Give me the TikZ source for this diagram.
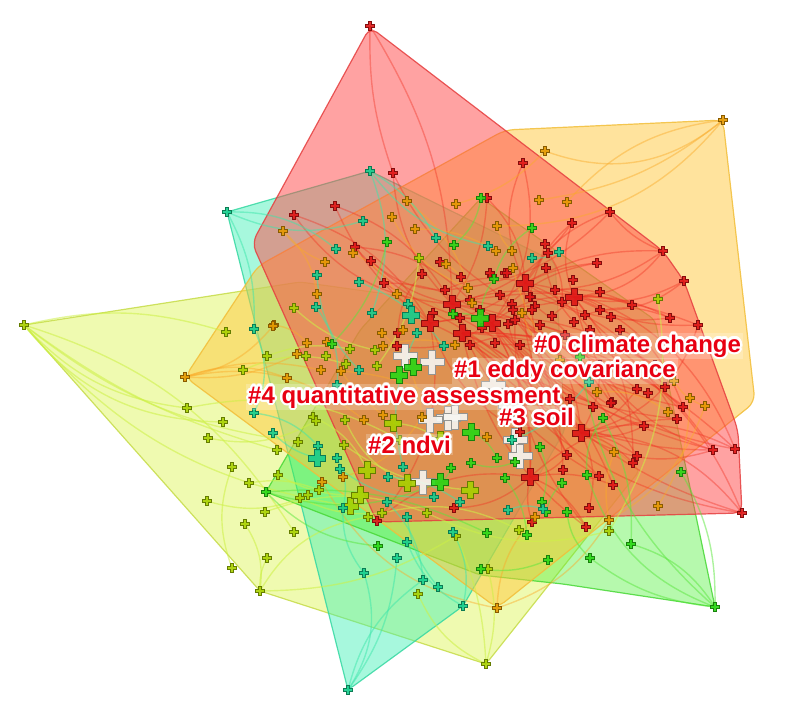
\documentclass[tikz,border=0pt]{standalone}
\usepackage{fontspec}
\setmainfont{Liberation Sans}
\pgfdeclarelayer{polys}
\pgfdeclarelayer{edges}
\pgfsetlayers{polys,edges,main}
\definecolor{cR}{RGB}{222,22,22}
\definecolor{cO}{RGB}{228,152,0}
\definecolor{cY}{RGB}{168,208,0}
\definecolor{cG}{RGB}{40,215,20}
\definecolor{cT}{RGB}{20,205,140}
\definecolor{cW}{RGB}{246,246,242}
\definecolor{labred}{RGB}{232,0,18}
\definecolor{pRc}{RGB}{255,70,70}
\definecolor{pOc}{RGB}{255,200,60}
\definecolor{pTc}{RGB}{60,240,180}
\definecolor{pGc}{RGB}{80,240,60}
\definecolor{pYc}{RGB}{220,245,80}
\tikzset{
  pics/mk/.style n args={3}{code={
    \filldraw[fill=#1, draw=#1!60!black, line width=0.5pt, fill opacity=0.9]
      (-#3,-#2) -- (#3,-#2) -- (#3,-#3) -- (#2,-#3) -- (#2,#3) -- (#3,#3) --
      (#3,#2) -- (-#3,#2) -- (-#3,#3) -- (-#2,#3) -- (-#2,-#3) -- (-#3,-#3) -- cycle;}},
  polyR/.style={fill=pRc, draw=pRc!90!black, fill opacity=0.5, draw opacity=0.85, line width=1.2pt, rounded corners=9pt},
  polyO/.style={fill=pOc, draw=pOc!95!black, fill opacity=0.5, draw opacity=0.85, line width=1.2pt, rounded corners=9pt},
  polyT/.style={fill=pTc, draw=pTc!90!black, fill opacity=0.45, draw opacity=0.85, line width=1.2pt, rounded corners=6pt},
  polyG/.style={fill=pGc, draw=pGc!90!black, fill opacity=0.42, draw opacity=0.85, line width=1.2pt, rounded corners=6pt},
  polyY/.style={fill=pYc, draw=pYc!90!black, fill opacity=0.45, draw opacity=0.85, line width=1.2pt, rounded corners=6pt},
  eR/.style={draw={rgb,255:red,240;green,50;blue,35}, opacity=0.4, line width=1.4pt},
  eO/.style={draw={rgb,255:red,250;green,170;blue,40}, opacity=0.45, line width=1.4pt},
  eY/.style={draw={rgb,255:red,205;green,240;blue,70}, opacity=0.55, line width=1.4pt},
  eT/.style={draw={rgb,255:red,60;green,230;blue,170}, opacity=0.5, line width=1.4pt},
  eG/.style={draw={rgb,255:red,90;green,230;blue,60}, opacity=0.5, line width=1.4pt},
  labtxt/.style={anchor=base west, inner sep=2pt, font=\fontsize{24}{24}\selectfont\bfseries},
}
\newcommand\ndS[4]{\node[coordinate] (#1) at (#2,#3) {}; \pic at (#1) {mk={#4}{4.3}{1.5}};}
\newcommand\ndR[3]{\ndS{#1}{#2}{#3}{cR}}
\newcommand\ndO[3]{\ndS{#1}{#2}{#3}{cO}}
\newcommand\ndB[4]{\node[coordinate] (#1) at (#2,#3) {}; \pic at (#1) {mk={#4}{8.5}{2.8}};}
\newcommand\ndW[3]{\node[coordinate] (#1) at (#2,#3) {}; \pic at (#1) {mk={cW}{12}{3.4}};}
\newcommand\clab[4]{%
  \foreach \ang in {0,22.5,...,337.5}{\path (#2,#3) ++(\ang:2.4) node[labtxt, text=white] {#4};}
  \node[labtxt, text=labred, fill=white, fill opacity=0.22, text opacity=1] (#1) at (#2,#3) {#4};}
\begin{document}
\begin{tikzpicture}[x=1pt,y=-1pt]
\useasboundingbox (0,0) rectangle (800,704);
\begin{pgfonlayer}{polys}
\filldraw[polyY] (24,325) -- (300,282) -- (430,300) -- (640,470) -- (486,664) -- (260,591) -- cycle;
\filldraw[polyT] (227,212) -- (370,171) -- (555,262) -- (565,430) -- (463,606) -- (348,690) -- cycle;
\filldraw[polyG] (266,492) -- (360,330) -- (481,198) -- (655,320) -- (715,607) -- (563,584) -- (480,575) -- cycle;
\filldraw[polyO] (723,120) -- (755,402) -- (497,608) -- (185,377) -- (258,266) -- (505,130) -- cycle;
\filldraw[polyR] (370,27) -- (663,251) -- (684,281) -- (738,430) -- (742,513) -- (377,522) -- (252,243) -- cycle;
\end{pgfonlayer}
% white hubs
\ndW{w1}{405}{356}\ndW{w2}{432}{362}\ndW{w3}{493}{385}\ndW{w4}{510}{405}\ndW{w5}{448}{418}
\ndW{w6}{423}{482}\ndW{w7}{430}{420}\ndW{w8}{455}{417}\ndW{w9}{515}{440}\ndW{w10}{520}{456}
% red
\ndR{r1}{370}{26}\ndR{r2}{393}{173}\ndR{r3}{294}{215}\ndR{r4}{335}{206}\ndR{r5}{355}{247}
\ndR{r6}{487}{198}\ndR{r7}{523}{163}\ndR{r8}{610}{212}\ndR{r9}{572}{223}\ndR{r10}{545}{244}
\ndR{r11}{548}{253}\ndR{r12}{663}{251}\ndR{r13}{597}{263}\ndR{r14}{546}{268}\ndR{r15}{492}{276}
\ndR{r16}{505}{273}\ndR{r17}{684}{281}\ndR{r18}{573}{280}\ndB{r19}{525}{283}{cR}\ndR{r20}{600}{292}
\ndB{r21}{574}{297}{cR}\ndR{r22}{562}{302}\ndR{r23}{632}{305}\ndR{r24}{531}{297}\ndR{r25}{512}{304}
\ndR{r26}{535}{306}\ndR{r27}{611}{317}\ndR{r28}{670}{318}\ndR{r29}{698}{325}\ndR{r30}{574}{322}
\ndR{r31}{552}{316}\ndR{r32}{637}{389}\ndR{r33}{648}{393}\ndR{r34}{665}{387}\ndR{r35}{683}{407}
\ndR{r36}{677}{419}\ndR{r37}{612}{402}\ndR{r38}{593}{407}\ndR{r39}{644}{426}\ndR{r40}{570}{399}
\ndR{r41}{713}{450}\ndR{r42}{735}{449}\ndR{r43}{742}{513}\ndB{r44}{581}{433}{cR}\ndR{r45}{567}{455}
\ndR{r46}{637}{456}\ndR{r47}{633}{463}\ndR{r48}{599}{476}\ndR{r49}{563}{470}\ndR{r50}{613}{485}
\ndR{r51}{589}{508}\ndR{r52}{586}{527}\ndB{r53}{530}{477}{cR}\ndR{r54}{532}{522}\ndR{r55}{454}{508}
\ndR{r56}{377}{521}\ndR{r57}{371}{261}\ndR{r58}{440}{262}\ndR{r59}{384}{283}\ndR{r60}{422}{274}
\ndR{r61}{461}{277}\ndR{r62}{490}{273}\ndR{r63}{507}{273}\ndB{r64}{452}{304}{cR}\ndR{r65}{433}{313}
\ndB{r66}{492}{323}{cR}\ndR{r67}{508}{324}\ndR{r68}{513}{310}\ndR{r69}{532}{310}\ndR{r70}{530}{297}
\ndR{r71}{398}{333}\ndB{r72}{430}{323}{cR}\ndB{r73}{462}{333}{cR}\ndR{r74}{482}{328}\ndR{r75}{397}{346}
\ndR{r76}{611}{403}\ndR{r77}{470}{345}\ndR{r78}{495}{343}\ndR{r79}{545}{338}\ndR{r80}{565}{335}
\ndR{r81}{600}{345}\ndR{r82}{620}{330}\ndR{r83}{640}{345}\ndR{r84}{520}{432}\ndR{r85}{555}{420}
\ndR{r86}{540}{400}\ndR{r87}{600}{365}\ndR{r88}{655}{365}
\ndR{r89}{445}{290}\ndR{r90}{470}{300}\ndR{r91}{500}{295}\ndR{r92}{515}{320}\ndR{r93}{540}{325}
\ndR{r94}{555}{290}\ndR{r95}{480}{310}\ndR{r96}{460}{318}\ndR{r97}{520}{345}\ndR{r98}{585}{315}
\ndR{r99}{600}{310}\ndR{r100}{590}{330}
% orange
\ndO{o1}{723}{120}\ndO{o2}{545}{151}\ndO{o3}{407}{201}\ndO{o4}{392}{217}\ndO{o5}{415}{229}
\ndO{o6}{456}{204}\ndO{o7}{283}{231}\ndO{o8}{353}{253}\ndO{o9}{497}{226}\ndO{o10}{539}{200}
\ndO{o11}{567}{202}\ndO{o13}{496}{251}\ndO{o14}{512}{251}\ndO{o15}{513}{268}\ndO{o16}{522}{313}
\ndO{o17}{446}{264}\ndO{o18}{325}{262}\ndO{o19}{468}{288}\ndO{o20}{317}{294}\ndO{o21}{397}{294}
\ndO{o22}{472}{303}\ndO{o23}{274}{325}\ndO{o24}{382}{333}\ndO{o25}{403}{330}\ndO{o26}{597}{392}
\ndO{o27}{674}{381}\ndO{o28}{690}{398}\ndO{o29}{705}{406}\ndO{o30}{668}{412}\ndO{o31}{614}{452}
\ndO{o32}{658}{506}\ndO{o33}{609}{520}\ndO{o34}{535}{517}\ndO{o35}{185}{377}\ndO{o36}{273}{326}
\ndO{o37}{287}{378}\ndO{o38}{297}{354}\ndO{o39}{307}{343}\ndO{o40}{327}{342}\ndO{o41}{321}{370}
\ndO{o42}{341}{371}\ndO{o43}{383}{346}\ndO{o45}{364}{420}\ndO{o46}{383}{415}\ndO{o47}{422}{417}
\ndO{o48}{487}{437}\ndO{o49}{322}{482}\ndO{o50}{343}{477}\ndO{o51}{497}{608}\ndO{o52}{440}{395}
\ndO{o53}{455}{345}\ndO{o54}{560}{360}
% yellow-green
\ndS{y1}{24}{325}{cY}\ndS{y2}{658}{299}{cY}\ndS{y3}{419}{258}{cY}\ndS{y4}{294}{308}{cY}\ndS{y5}{226}{332}{cY}
\ndS{y7}{267}{356}{cY}\ndS{y8}{243}{370}{cY}\ndS{y9}{187}{408}{cY}\ndS{y10}{223}{422}{cY}\ndS{y11}{208}{438}{cY}
\ndS{y12}{298}{442}{cY}\ndS{y13}{277}{450}{cY}\ndS{y14}{232}{467}{cY}\ndS{y15}{278}{475}{cY}\ndS{y16}{249}{483}{cY}
\ndS{y17}{207}{501}{cY}\ndS{y18}{265}{512}{cY}\ndS{y19}{245}{524}{cY}\ndS{y20}{294}{532}{cY}\ndS{y21}{300}{498}{cY}
\ndS{y22}{308}{495}{cY}\ndS{y23}{319}{490}{cY}\ndB{y24}{350}{506}{cY}\ndB{y25}{360}{495}{cY}\ndS{y26}{368}{517}{cY}
\ndS{y27}{382}{513}{cY}\ndS{y28}{427}{513}{cY}\ndS{y29}{456}{536}{cY}\ndS{y30}{488}{569}{cY}\ndS{y31}{519}{530}{cY}
\ndS{y32}{609}{531}{cY}\ndS{y33}{267}{558}{cY}\ndS{y34}{232}{568}{cY}\ndS{y35}{260}{591}{cY}\ndS{y36}{418}{594}{cY}
\ndS{y37}{486}{664}{cY}\ndS{y38}{306}{356}{cY}\ndS{y39}{326}{356}{cY}\ndS{y40}{350}{349}{cY}\ndS{y41}{375}{350}{cY}
\ndS{y42}{346}{364}{cY}\ndS{y43}{377}{366}{cY}\ndS{y44}{313}{417}{cY}\ndS{y45}{316}{421}{cY}\ndS{y46}{345}{420}{cY}
\ndB{y47}{393}{423}{cY}\ndS{y48}{344}{445}{cY}\ndB{y49}{367}{470}{cY}\ndB{y50}{407}{483}{cY}\ndB{y53}{440}{440}{cY}
\ndB{y54}{470}{490}{cY}\ndS{y55}{400}{440}{cY}
% green
\ndS{g1}{481}{198}{cG}\ndS{g2}{532}{228}{cG}\ndS{g3}{387}{242}{cG}\ndS{g4}{454}{245}{cG}\ndS{g5}{494}{279}{cG}
\ndS{g6}{580}{357}{cG}\ndS{g7}{603}{418}{cG}\ndS{g8}{681}{472}{cG}\ndS{g9}{587}{475}{cG}\ndS{g10}{567}{512}{cG}
\ndS{g11}{631}{544}{cG}\ndS{g12}{590}{558}{cG}\ndS{g13}{715}{607}{cG}\ndS{g14}{540}{447}{cG}\ndS{g15}{562}{483}{cG}
\ndS{g16}{542}{502}{cG}\ndS{g17}{546}{512}{cG}\ndS{g18}{487}{533}{cG}\ndS{g19}{505}{478}{cG}\ndS{g20}{497}{458}{cG}
\ndS{g21}{515}{462}{cG}\ndS{g22}{527}{535}{cG}\ndS{g23}{548}{560}{cG}\ndS{g24}{481}{569}{cG}\ndS{g25}{378}{546}{cG}
\ndS{g26}{266}{492}{cG}\ndS{g27}{332}{344}{cG}\ndB{g28}{413}{367}{cG}\ndB{g29}{399}{375}{cG}\ndB{g30}{471}{432}{cG}
\ndB{g31}{440}{482}{cG}\ndS{g32}{451}{468}{cG}\ndS{g33}{471}{463}{cG}\ndS{g34}{453}{314}{cG}\ndB{g35}{480}{318}{cG}
% teal
\ndS{t1}{370}{171}{cT}\ndS{t2}{227}{212}{cT}\ndS{t3}{363}{221}{cT}\ndS{t4}{436}{238}{cT}\ndS{t5}{336}{249}{cT}
\ndS{t6}{488}{246}{cT}\ndS{t7}{559}{252}{cT}\ndS{t8}{532}{258}{cT}\ndS{t9}{317}{275}{cT}\ndS{t10}{359}{282}{cT}
\ndS{t11}{316}{307}{cT}\ndS{t12}{408}{304}{cT}\ndS{t13}{372}{313}{cT}\ndB{t14}{411}{315}{cT}\ndS{t15}{417}{333}{cT}
\ndS{t16}{589}{382}{cT}\ndS{t17}{512}{440}{cT}\ndS{t18}{508}{510}{cT}\ndS{t19}{453}{532}{cT}\ndS{t20}{460}{502}{cT}
\ndS{t21}{434}{497}{cT}\ndS{t22}{423}{580}{cT}\ndS{t23}{438}{587}{cT}\ndS{t24}{463}{606}{cT}\ndS{t25}{348}{690}{cT}
\ndS{t26}{254}{329}{cT}\ndS{t27}{254}{413}{cT}\ndS{t28}{273}{433}{cT}\ndS{t29}{343}{508}{cT}\ndS{t30}{387}{502}{cT}
\ndS{t31}{407}{517}{cT}\ndS{t32}{407}{542}{cT}\ndS{t33}{397}{558}{cT}\ndS{t34}{364}{573}{cT}\ndS{t35}{444}{346}{cT}
\ndS{t36}{359}{370}{cT}\ndS{t37}{337}{385}{cT}\ndS{t38}{318}{446}{cT}\ndB{t39}{317}{458}{cT}\ndS{t40}{337}{458}{cT}
\ndS{t41}{340}{469}{cT}\ndS{t42}{403}{467}{cT}\ndS{t43}{388}{477}{cT}\ndS{t44}{543}{509}{cT}
\begin{pgfonlayer}{edges}
\foreach \a/\b/\c in {r19/r7/25,r19/r6/-20,r19/r8/20,r19/r12/15,r19/r13/10,r19/r10/-15,r21/r17/-20,r21/r28/15,
  r21/r29/-15,r21/r23/10,r21/r12/-25,r21/r27/20,r44/r41/-25,r44/r42/20,r44/r43/25,r44/r32/-15,r44/r46/15,
  r44/r39/-20,r44/r51/20,r53/r52/20,r53/r54/-15,r53/r55/20,r53/r56/-25,r53/r50/15,r64/r1/-15,r64/r2/20,
  r64/r3/25,r64/r4/-20,r64/r57/15,r66/r5/20,r66/r59/-20,r66/r41/-15,r66/r53/15,r73/r35/20,r73/r36/-15,
  r73/r42/20,r73/r44/15,r72/r3/-20,r72/r4/15,r72/r56/25,r72/r59/-10,r64/r44/20,r19/r44/-25,r21/r47/20,
  r21/r88/-15,r19/r81/20,r66/r85/15,r72/r84/-20,r73/r86/20,r44/r87/-15,r24/r34/20,r25/r33/-20,r26/r37/15,
  r69/r40/-20,r68/r49/15,r65/r45/20,r67/r48/-15,r70/r9/20,r22/r11/-20,r30/r14/15,r31/r20/15,r62/r15/20,
  r63/r16/-20,r61/r58/15,r60/r71/-20,r74/r75/20,r77/r79/15,r78/r80/-15,r82/r83/20,r1/r2/-10,r8/r12/-15,
  r44/r47/15,r53/r45/-20,r73/r38/-15,r64/r6/-15,r66/r7/-25,r21/r9/20,r19/r26/15,r66/r43/-20,r64/r76/25,
  r72/r88/20,r19/r42/30,r21/r41/-30,r73/r52/-20,r64/r39/20,
  r89/r19/20,r90/r21/-15,r91/r44/25,r92/r42/-20,r93/r41/20,r94/r12/-15,r95/r53/20,r96/r43/-25,r97/r46/15,
  r98/r28/20,r99/r17/-20,r100/r36/15,r89/r8/-20,r90/r29/15,r91/r35/-20,r64/r21/15,r72/r19/-15,r66/r21/20,
  r73/r32/20,r95/r39/-15,r96/r50/20,r92/r52/-20,r93/r43/25,r94/r23/15,r89/r57/20,r90/r5/-20,r91/r2/15,
  r64/r9/-20,r66/r13/20,r19/r28/-20,r21/r35/25,r44/r29/-30,r53/r36/20,r73/r41/-25,r72/r45/20,r64/r48/-20}
  {\draw[eR] (\a) to[bend left=\c] (\b);}
\foreach \a/\b/\c in {o1/o2/30,o1/o9/25,o1/o11/-20,o1/o10/15,o2/o6/15,o35/o36/-20,o35/o37/20,o35/o38/-15,
  o35/o45/25,o35/o41/15,o51/o33/-20,o51/o34/20,o51/o49/25,o3/o22/20,o4/o19/-20,o5/o13/15,o7/o18/-15,
  o7/o20/20,o8/o21/15,o9/o14/-15,o26/o30/20,o27/o29/-20,o28/o32/15,o31/o33/-15,o24/o47/20,o40/o46/-15,
  o42/o48/20,o43/o53/15,o16/o54/-20,o17/o19/15,o23/o39/20,o50/o47/-20,o29/o33/20,o15/o26/-20}
  {\draw[eO] (\a) to[bend left=\c] (\b);}
\foreach \a/\b/\c in {y1/y9/-20,y1/y10/-25,y1/y12/-15,y1/y24/-20,y1/y20/20,y1/y13/-10,y1/y5/15,y37/y30/-15,
  y37/y36/20,y37/y29/-10,y35/y19/-20,y35/y26/25,y35/y33/15,y34/y14/20,y17/y22/-20,y16/y23/15,y11/y45/-20,
  y8/y42/20,y7/y40/15,y4/y41/-15,y44/y49/20,y46/y50/-20,y47/y53/15,y48/y54/-15,y27/y31/20,y28/y32/-20,
  y3/y43/15,y2/y32/20,y15/y25/-15,y18/y28/20,y21/y27/-15,y35/y29/-15,y9/y55/20}
  {\draw[eY] (\a) to[bend left=\c] (\b);}
\foreach \a/\b/\c in {t2/t3/-20,t2/t26/15,t2/t5/20,t1/t4/15,t1/t6/-20,t1/t13/20,t25/t34/-25,t25/t22/20,
  t25/t33/-15,t24/t32/20,t24/t19/-20,t23/t31/15,t22/t30/-20,t27/t38/20,t28/t39/-15,t11/t37/20,t9/t36/-20,
  t10/t35/15,t12/t14/20,t15/t42/-20,t16/t17/15,t18/t44/20,t20/t43/-15,t21/t41/20,t7/t8/15,t29/t40/-20,
  t26/t27/25,t34/t29/20}
  {\draw[eT] (\a) to[bend left=\c] (\b);}
\foreach \a/\b/\c in {g13/g11/-20,g13/g6/20,g13/g8/-15,g13/g12/15,g12/g10/20,g11/g7/-15,g26/g25/-20,
  g26/g18/15,g1/g4/20,g2/g5/-20,g3/g27/15,g24/g23/-15,g14/g16/20,g15/g17/-15,g19/g22/15,g20/g30/-20,
  g21/g33/20,g28/g29/15,g31/g32/-20,g34/g35/15,g9/g7/20,g5/g35/-15,g13/g9/25,g26/g31/-20}
  {\draw[eG] (\a) to[bend left=\c] (\b);}
\end{pgfonlayer}
% cluster labels
\clab{l0}{532}{352}{\#0 climate change}
\clab{l1}{452}{377}{\#1 eddy covariance}
\clab{l4}{246}{403}{\#4 quantitative assessment}
\clab{l3}{497}{425}{\#3 soil}
\clab{l2}{366}{453}{\#2 ndvi}
\end{tikzpicture}
\end{document}
